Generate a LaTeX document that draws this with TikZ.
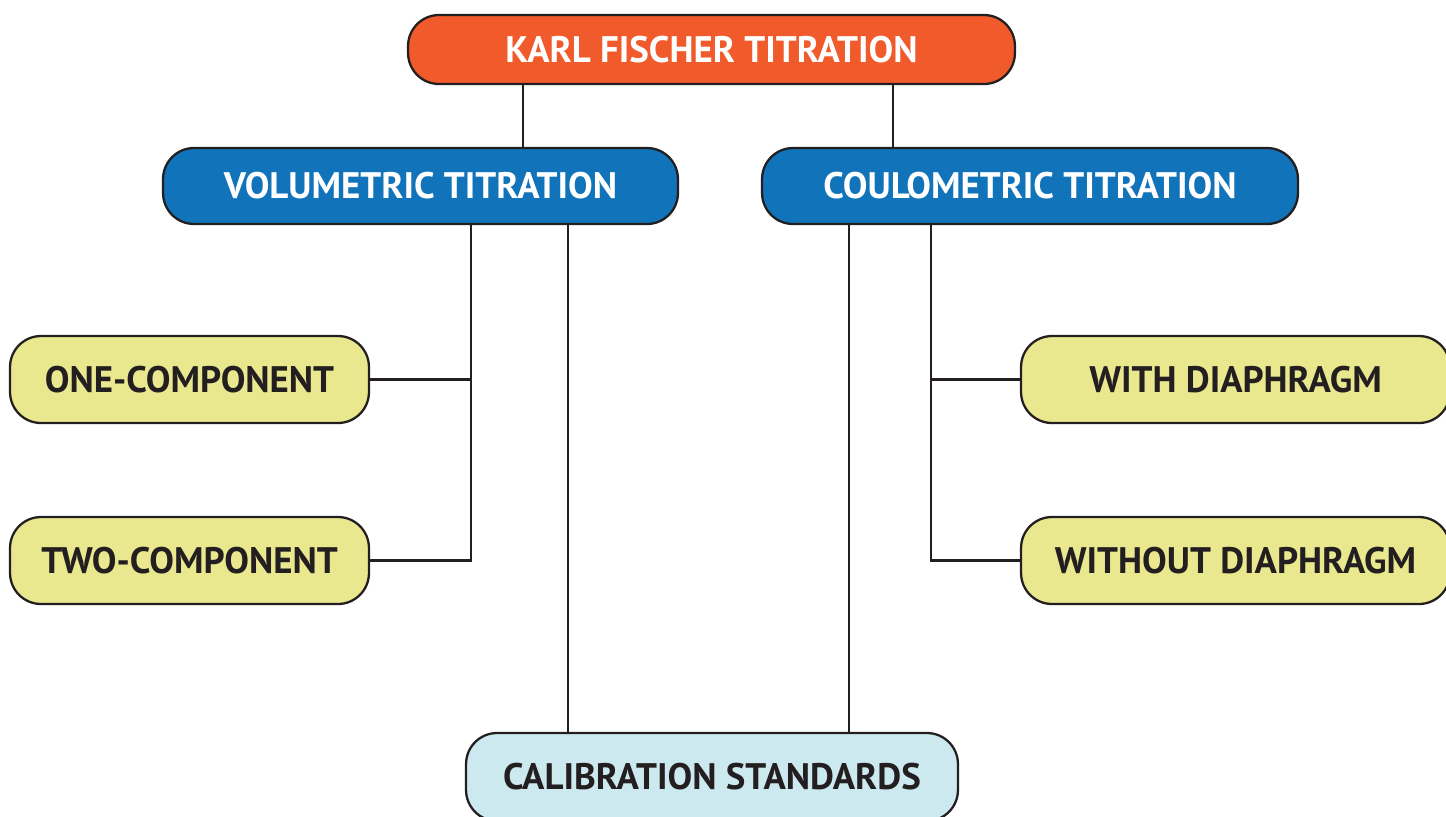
\documentclass[tikz,border=0pt]{standalone}
\usepackage{fontspec}
\setmainfont{PT Sans}
\usepackage{tikz}

\definecolor{kforange}{HTML}{F15A2B}
\definecolor{kfblue}{HTML}{1173BA}
\definecolor{kfyellow}{HTML}{E9E88F}
\definecolor{kflight}{HTML}{CDE9F0}
\definecolor{kfline}{HTML}{231F20}

\begin{document}
\begin{tikzpicture}[x=0.02cm,y=-0.02cm,
		box/.style={draw=kfline,line width=1.3pt,rounded corners=0.62cm,
			font=\fontsize{21}{25}\selectfont\bfseries,inner sep=0pt,
			text height=14.7pt,text depth=0pt},
		topbox/.style={box,fill=kforange,text=white,minimum width=12.14cm,minimum height=1.38cm},
		midbox/.style={box,fill=kfblue,text=white,minimum height=1.52cm},
		subbox/.style={box,fill=kfyellow,text=kfline,minimum height=1.74cm},
		link/.style={draw=kfline,line width=1.3pt}]
		\useasboundingbox(0,0)rectangle(1446,816);
		\node[topbox](kft)at(711.5,49.5){KARL FISCHER TITRATION};
		\node[midbox,minimum width=10.3cm](vol)at(420.5,186){VOLUMETRIC TITRATION};
		\node[midbox,minimum width=10.72cm](coul)at(1030,186){COULOMETRIC TITRATION};
		\node[subbox,minimum width=7.18cm](one)at(189.5,379.5){ONE-COMPONENT};
		\node[subbox,minimum width=7.18cm](two)at(189.5,560.5){TWO-COMPONENT};
		\node[subbox,minimum width=8.58cm](with)at(1235.5,379.5){WITH DIAPHRAGM};
		\node[subbox,minimum width=8.58cm](without)at(1235.5,560.5){WITHOUT DIAPHRAGM};
		\node[box,fill=kflight,text=kfline,minimum width=9.84cm,minimum height=1.76cm](calib)at(712,777){CALIBRATION STANDARDS};
		% trunk positions
		\coordinate(kl)at(523,0);
		\coordinate(kr)at(893,0);
		\coordinate(vt)at(471,0);
		\coordinate(vc)at(568,0);
		\coordinate(ct)at(931,0);
		\coordinate(cc)at(849,0);
		\draw[link](kft.south-|kl)--(vol.north-|kl);
		\draw[link](kft.south-|kr)--(coul.north-|kr);
		\draw[link](vol.south-|vt)--(two.east-|vt)--(two.east);
		\draw[link](one.east)--(one.east-|vt);
		\draw[link](coul.south-|ct)--(without.west-|ct)--(without.west);
		\draw[link](with.west)--(with.west-|ct);
		\draw[link](vol.south-|vc)--(calib.north-|vc);
		\draw[link](coul.south-|cc)--(calib.north-|cc);
	\end{tikzpicture}
\end{document}
